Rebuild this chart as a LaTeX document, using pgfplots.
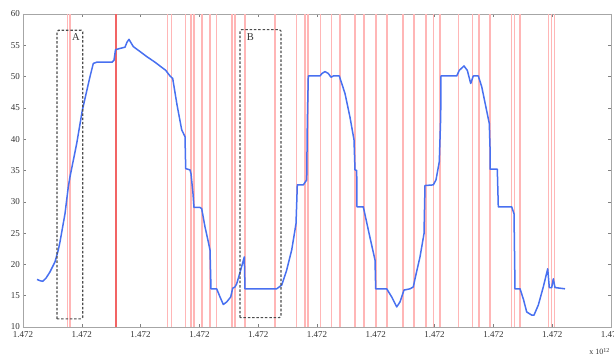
\documentclass[border=0pt]{standalone}
\usepackage{fontspec}
\setmainfont{Liberation Serif}
\usepackage{pgfplots}
\pgfplotsset{compat=1.18}
\definecolor{pinkline}{RGB}{255,182,182}
\definecolor{redline}{RGB}{242,100,100}
\definecolor{sigblue}{RGB}{72,112,240}
\begin{document}
\begin{tikzpicture}
\begin{axis}[
  name=ax,
  scale only axis,
  width=588pt, height=313pt,
  xmin=23, xmax=611, ymin=10, ymax=60,
  xtick={23,81.8,140.6,199.4,258.2,317,375.8,434.6,493.4,552.2,611},
  xticklabels={1.472,1.472,1.472,1.472,1.472,1.472,1.472,1.472,1.472,1.472,1.472},
  ytick={10,15,20,25,30,35,40,45,50,55,60},
  /pgf/number format/assume math mode=true,
  ticklabel style={font=\fontsize{9}{10}\selectfont, text=black!80},
  xticklabel style={yshift=-1.5pt},
  yticklabel style={xshift=0.5pt},
  axis line style={draw=black!35, line width=0.8pt},
  major tick length=3pt,
  tick style={draw=black!50, line width=0.5pt},
  unbounded coords=jump,
  clip=true,
]
% red vertical markers
\addplot[no marks, color=pinkline, line width=1.5pt] coordinates {
(67.7,10) (67.7,60) (67.7,nan) (70,10) (70,60) (70,nan)
(167.7,10) (167.7,60) (167.7,nan) (171.5,10) (171.5,60) (171.5,nan)
(185.7,10) (185.7,60) (185.7,nan) (191,10) (191,60) (191,nan)
(194,10) (194,60) (194,nan) (202,10) (202,60) (202,nan)
(210,10) (210,60) (210,nan) (216.5,10) (216.5,60) (216.5,nan)
(232,10) (232,60) (232,nan) (235,10) (235,60) (235,nan)
(245,10) (245,60) (245,nan) (275,10) (275,60) (275,nan)
(296.5,10) (296.5,60) (296.5,nan) (305,10) (305,60) (305,nan)
(308,10) (308,60) (308,nan) (320.7,10) (320.7,60) (320.7,nan)
(331.7,10) (331.7,60) (331.7,nan) (340,10) (340,60) (340,nan)
(355,10) (355,60) (355,nan) (364,10) (364,60) (364,nan)
(376,10) (376,60) (376,nan) (387,10) (387,60) (387,nan)
(403,10) (403,60) (403,nan) (414,10) (414,60) (414,nan)
(426,10) (426,60) (426,nan) (433.3,10) (433.3,60) (433.3,nan)
(440,10) (440,60) (440,nan) (458.3,10) (458.3,60) (458.3,nan)
(472.3,10) (472.3,60) (472.3,nan) (479,10) (479,60) (479,nan)
(490,10) (490,60) (490,nan) (511.7,10) (511.7,60) (511.7,nan)
(514.3,10) (514.3,60) (514.3,nan) (520,10) (520,60) (520,nan)
(548.3,10) (548.3,60) (548.3,nan) (551.7,10) (551.7,60) (551.7,nan)
(554.3,10) (554.3,60)
};
\addplot[no marks, color=redline, line width=2pt] coordinates {(115.5,10) (115.5,60)};
% blue signal
\addplot[no marks, color=sigblue, line width=1.5pt, line join=round] coordinates {
(37,17.6) (40,17.4) (42.7,17.3) (46,17.8) (50,18.8) (55,20.4) (58.3,22.3)
(60,23.6) (65,28.1) (68.3,32.4) (70,34.0) (76.7,39.3) (82.3,44.6) (90,50.0)
(93.3,52.1) (96.7,52.3) (105,52.3) (112,52.3) (114,52.6) (115.5,54.3)
(120,54.5) (125,54.7) (127,55.5) (129,55.95) (131,55.4) (133.3,54.8)
(140,54.0) (146.7,53.2) (155,52.3) (165.7,51.0) (170,50.1) (172.7,49.7)
(177,45.5) (181.7,41.5) (185,40.4) (185.7,35.3) (190,35.1) (191,34.5)
(193,31.3) (194,29.1) (200,29.1) (201.7,28.9) (205,26) (208.3,23.6)
(210,22.3) (211,16.1) (216.7,16.1) (220,14.8) (223.3,13.6) (226.7,14.0)
(230.7,14.8) (232.7,16.2) (235,16.4) (236.7,16.9) (240.7,19.1) (244.3,21.2)
(245,16.1) (276.7,16.1) (281.7,16.7) (286.7,19.1) (291.7,22.3) (296,26.5)
(296.7,29.7) (297.3,32.7) (303.3,32.7) (306.7,33.5) (307.3,42.5) (308.3,50.1)
(320,50.1) (322,50.5) (325,50.8) (328.3,50.5) (331,49.9) (333.3,50.1)
(339.3,50.1) (345,47.3) (350,43.5) (354,39.9) (355,35.1) (356.7,35.0)
(357,29.2) (363.3,29.2) (369,25) (375,20.7) (375.7,16.1) (386.7,16.1)
(391.7,14.8) (396.7,13.2) (400,14.0) (404,15.9) (410,16.1) (413.3,16.4)
(415,17.7) (420,21.2) (424,24.9) (425,32.6) (433.3,32.7) (436,33.5)
(439.3,36.4) (440.7,43.6) (441,50.1) (456.7,50.1) (459.3,51.0) (464,51.7)
(467.3,51.0) (470.7,48.9) (473.3,50.1) (478.3,50.1) (481.7,48.4) (489.3,42.5)
(490,38.8) (490,35.2) (497.3,35.2) (498.3,29.2) (511.7,29.2) (514,28.1)
(515,16.1) (520,16.1) (523.3,14.5) (526.7,12.4) (531.7,11.9) (534,11.9)
(538.3,13.5) (543.3,16.4) (547.7,19.3) (549.3,16.3) (551.7,16.3) (553.3,17.7)
(555,16.3) (565,16.1)
};
% dashed boxes A and B
\addplot[no marks, color=black!70, line width=1.2pt, dash pattern=on 2.5pt off 1.8pt, rounded corners=1.5pt] coordinates {
(57,11.3) (57,57.4) (82.7,57.4) (82.7,11.3) (57,11.3)
};
\addplot[no marks, color=black!70, line width=1.2pt, dash pattern=on 2.5pt off 1.8pt, rounded corners=1.5pt] coordinates {
(240,11.5) (240,57.5) (281,57.5) (281,11.5) (240,11.5)
};
\node[font=\fontsize{10.5}{11}\selectfont, text=black!80] at (axis cs:76,56.3) {A};
\node[font=\fontsize{10.5}{11}\selectfont, text=black!80] at (axis cs:250.5,56.3) {B};
\end{axis}
\node[anchor=base east, font=\fontsize{8}{9}\selectfont, text=black!80, inner sep=0pt] at ([xshift=-1pt,yshift=-28pt]ax.south east) {x 10\textsuperscript{12}};
\pgfresetboundingbox
\path[use as bounding box] ([xshift=-23pt,yshift=-31pt]ax.south west) rectangle ([xshift=3pt,yshift=14pt]ax.north east);
\end{tikzpicture}
\end{document}
